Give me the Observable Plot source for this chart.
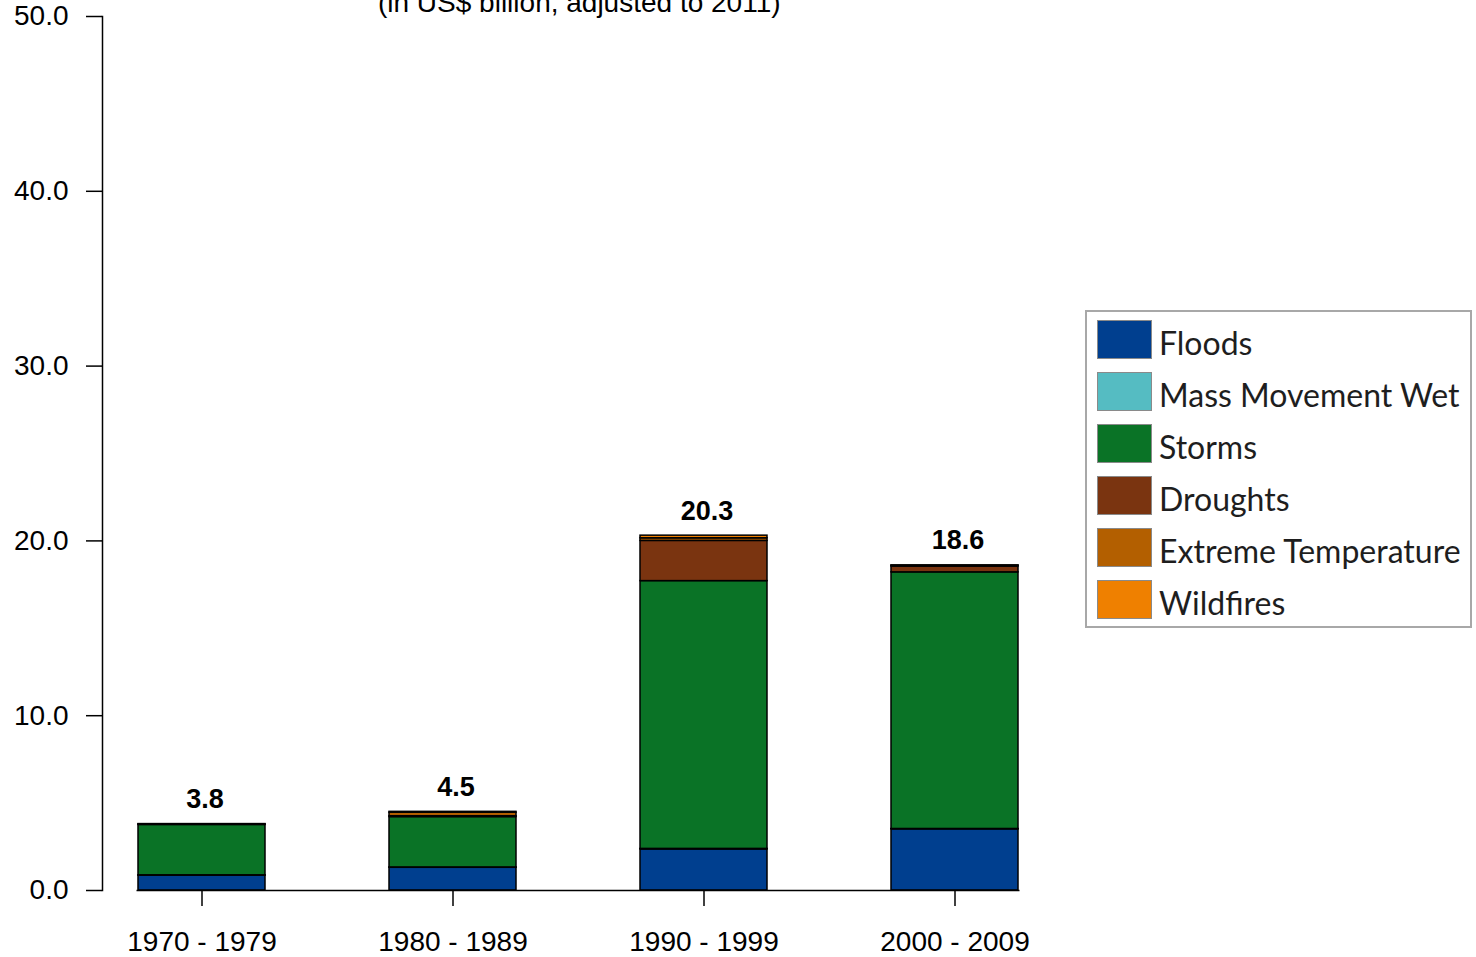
<!DOCTYPE html>
<html>
<head>
<meta charset="utf-8">
<script src="https://cdn.jsdelivr.net/npm/d3@7"></script>
<script src="https://cdn.jsdelivr.net/npm/@observablehq/plot@0.6"></script>
<style>
  html, body { margin: 0; padding: 0; background: #fff; }
  #wrap { position: relative; width: 1476px; height: 957px; overflow: hidden; }
  #legend {
    position: absolute; left: 1085px; top: 310px; width: 383px; height: 314px;
    border: 2px solid #a8a8a8; box-sizing: content-box;
    font-family: Lato, "Open Sans", sans-serif; font-size: 32px; color: #1e1e1e;
  }
  .row { position: absolute; left: 10px; height: 40px; display: flex; align-items: center; }
  .sw { width: 55px; height: 39px; border: 1px solid #8a8a8a; box-sizing: border-box; margin-right: 7px; }
  .lab { white-space: nowrap; position: relative; top: 3px; }
</style>
</head>
<body>
<div id="wrap">
  <div id="chart"></div>
  <div id="legend"></div>
</div>
<script>
const periods = ["1970 - 1979", "1980 - 1989", "1990 - 1999", "2000 - 2009"];
const hazards = ["Floods", "Mass Movement Wet", "Storms", "Droughts", "Extreme Temperature", "Wildfires"];
const colors = ["#003f8f", "#55bcc2", "#0a7326", "#7a3410", "#b35f00", "#ef8000"];
const floods = [0.85, 1.30, 2.35, 3.50];
const massMovementWet = [0.02, 0.02, 0.03, 0.02];
const storms = [2.88, 2.88, 15.32, 14.68];
const droughts = [0.03, 0.05, 2.30, 0.33];
const extremeTemperature = [0.02, 0.20, 0.15, 0.05];
const wildfires = [0.00, 0.05, 0.15, 0.02];
const totals = [3.8, 4.5, 20.3, 18.6];
const yTicks = [0, 10, 20, 30, 40, 50];
const subtitle = "(in US$ billion, adjusted to 2011)";

const series = [floods, massMovementWet, storms, droughts, extremeTemperature, wildfires];
const rows = [];
periods.forEach((p, i) => hazards.forEach((h, j) => rows.push({period: p, hazard: h, value: series[j][i]})));
const totalRows = periods.map((p, i) => ({period: p, total: totals[i]}));

const chart = Plot.plot({
  width: 1476,
  height: 957,
  marginTop: 16,
  marginBottom: 67,
  marginLeft: 102,
  marginRight: 456.5,
  style: {fontFamily: "'Liberation Sans', Arial, sans-serif", fontSize: "28px", color: "#000", background: "#fff"},
  x: {domain: periods, paddingInner: 0.496, paddingOuter: 0, insetLeft: 34.5, label: null},
  y: {domain: [0, 50], label: null},
  color: {domain: hazards, range: colors},
  marks: [
    Plot.barY(rows, {x: "period", y: "value", fill: "hazard", order: hazards, stroke: "#000", strokeWidth: 1.5}),
    Plot.ruleY([0], {insetLeft: 34.5, stroke: "#000", strokeWidth: 1.5}),
    Plot.frame({anchor: "left", stroke: "#000", strokeWidth: 1.5}),
    Plot.axisY({ticks: yTicks, tickFormat: d3.format(".1f"), tickSize: 16, tickPadding: 18, fontSize: 28, strokeWidth: 1.5, label: null}),
    Plot.axisX({tickSize: 16, tickPadding: 25, fontSize: 28, strokeWidth: 1.5, label: null}),
    Plot.text(totalRows, {x: "period", y: "total", text: d => d.total.toFixed(1), dy: -16, dx: 3, lineAnchor: "bottom", fontWeight: "bold", fontSize: 27}),
    Plot.text([subtitle], {frameAnchor: "top", text: d => d, dx: 18, dy: -5, lineAnchor: "bottom", fontSize: 28})
  ]
});
document.getElementById("chart").appendChild(chart);

const legend = document.getElementById("legend");
hazards.forEach((h, i) => {
  const r = document.createElement("div");
  r.className = "row";
  r.style.top = (7 + i * 52) + "px";
  const s = document.createElement("div");
  s.className = "sw";
  s.style.background = colors[i];
  const t = document.createElement("span");
  t.className = "lab";
  t.textContent = h;
  r.appendChild(s); r.appendChild(t);
  legend.appendChild(r);
});
</script>
</body>
</html>
